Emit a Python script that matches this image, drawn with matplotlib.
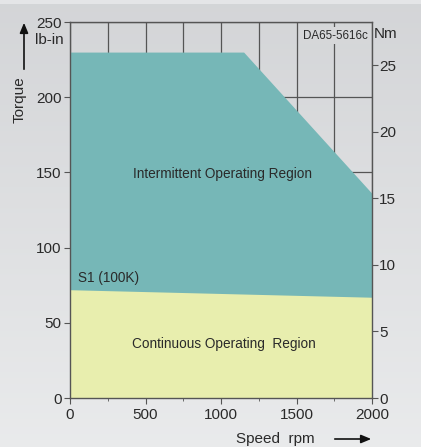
import numpy as np
import matplotlib
matplotlib.use('Agg')
import matplotlib.pyplot as plt
from matplotlib.patches import FancyArrowPatch, Rectangle
from matplotlib.ticker import MultipleLocator

plt.rcParams['font.family'] = ['Liberation Sans', 'DejaVu Sans']

# Daten
speed_int = [0, 1150, 2000]
torque_int = [230, 230, 136]
speed_cont = [0, 2000]
torque_cont = [72, 67]
left_ticks = [0, 50, 100, 150, 200, 250]
right_ticks = [0, 5, 10, 15, 20, 25]
x_ticks = [0, 500, 1000, 1500, 2000]
NM_PER_LBIN = 1 / 8.85

teal = '#76b7b7'
yellow = '#e8eeae'
line_col = '#555555'
txt_col = '#2a2a2a'
bg_top = np.array([0.83, 0.835, 0.845])
bg_bot = np.array([0.915, 0.92, 0.925])

fig = plt.figure(figsize=(4.21, 4.47), dpi=100)

# Hintergrund mit Verlauf
bg = fig.add_axes([0, 0, 1, 1], zorder=-10)
grad = np.linspace(0, 1, 256)[:, None, None]
img = bg_top[None, None, :] * (1 - grad) + bg_bot[None, None, :] * grad
bg.imshow(img, aspect='auto', extent=[0, 1, 0, 1])
bg.add_patch(Rectangle((0, 1 - 4 / 447), 1, 4 / 447, facecolor='#e4e5e7',
                       edgecolor='none'))
bg.set_xlim(0, 1)
bg.set_ylim(0, 1)
bg.axis('off')

ax = fig.add_axes([70 / 421, 1 - 398 / 447, 302 / 421, 376 / 447])
ax.set_facecolor('none')
ax.set_xlim(0, 2000)
ax.set_ylim(0, 250)

# Gitter
ax.xaxis.set_minor_locator(MultipleLocator(250))
ax.set_xticks(x_ticks)
ax.set_yticks(left_ticks)
ax.grid(True, which='both', color=line_col, linewidth=0.9, zorder=0)
ax.set_axisbelow(True)

# Flächen
ax.fill_between(speed_int, 0, torque_int, color=teal, linewidth=0, zorder=2)
ax.fill_between(speed_cont, 0, torque_cont, color=yellow, linewidth=0, zorder=3)

for s in ax.spines.values():
    s.set_color(line_col)
    s.set_linewidth(1.0)
    s.set_zorder(5)

ax.tick_params(axis='both', which='major', direction='out', length=4,
               color=line_col, labelsize=11, labelcolor=txt_col, pad=2)
ax.tick_params(axis='x', which='minor', direction='out', length=2, color=line_col)
ax.tick_params(axis='x', which='major', pad=3)

# rechte Achse in Nm
ax2 = ax.twinx()
ax2.set_ylim(0, 250 * NM_PER_LBIN)
ax2.set_yticks(right_ticks)
ax2.tick_params(axis='y', direction='out', length=4, color=line_col,
                labelsize=11, labelcolor=txt_col, pad=1)
for s in ax2.spines.values():
    s.set_visible(False)

# Texte
ax.text(1007, 149, 'Intermittent Operating Region', fontsize=9.8, color=txt_col,
        ha='center', va='center', zorder=6)
ax.text(1020, 36, 'Continuous Operating  Region', fontsize=9.8, color=txt_col,
        ha='center', va='center', zorder=6)
ax.text(55, 80, 'S1 (100K)', fontsize=9.8, color=txt_col,
        ha='left', va='center', zorder=6)
ax.text(1755, 241, 'DA65-5616c', fontsize=8.4, color=txt_col, ha='center', va='center',
        zorder=6, bbox=dict(facecolor='#d6d7d9', edgecolor='none', pad=2))

fig.text(49 / 421, 1 - 40 / 447, 'lb-in', fontsize=11, color=txt_col,
         ha='center', va='center')
fig.text(386 / 421, 1 - 34 / 447, 'Nm', fontsize=11, color=txt_col,
         ha='center', va='center')
fig.text(20 / 421, 1 - 100 / 447, 'Torque', fontsize=11, color=txt_col,
         ha='center', va='center', rotation=90)
fig.text(275 / 421, 1 - 439 / 447, 'Speed  rpm', fontsize=11, color=txt_col,
         ha='center', va='center')

fig.add_artist(FancyArrowPatch(
    (24 / 421, 1 - 72 / 447), (24 / 421, 1 - 20 / 447), transform=fig.transFigure,
    arrowstyle='-|>,head_length=6,head_width=2.5', color='#111111', linewidth=1.2))
fig.add_artist(FancyArrowPatch(
    (332 / 421, 1 - 439 / 447), (374 / 421, 1 - 439 / 447), transform=fig.transFigure,
    arrowstyle='-|>,head_length=6,head_width=2.5', color='#111111', linewidth=1.2))

fig.savefig('out.png', dpi=100)
